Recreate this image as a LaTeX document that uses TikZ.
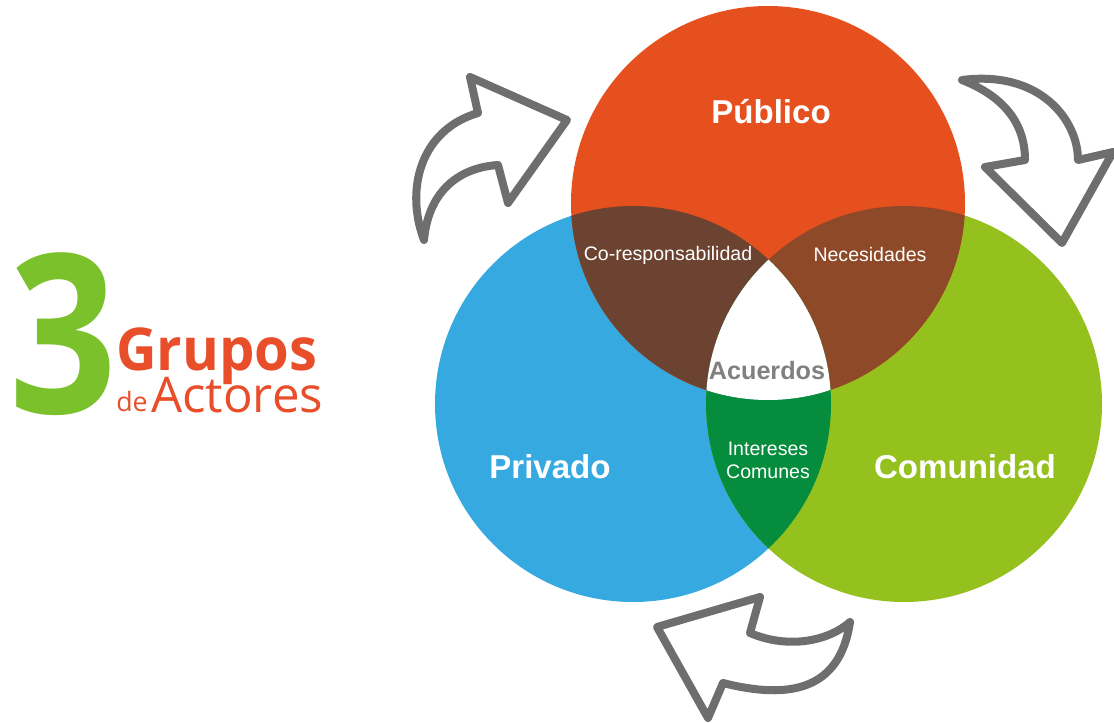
\documentclass[tikz,border=0pt]{standalone}
\usepackage{fontspec}
\setmainfont{Liberation Sans}
\newfontfamily\logofont{Open Sans}
\definecolor{pubcol}{RGB}{229,80,30}
\definecolor{privcol}{RGB}{54,169,224}
\definecolor{comcol}{RGB}{149,193,31}
\definecolor{pubpriv}{RGB}{107,67,48}
\definecolor{pubcom}{RGB}{142,74,40}
\definecolor{privcom}{RGB}{5,140,60}
\definecolor{arrowgray}{RGB}{110,110,110}
\definecolor{tresgreen}{RGB}{122,193,44}
\definecolor{gruposred}{RGB}{232,78,42}
\begin{document}
\begin{tikzpicture}
[x=0.025cm,y=-0.025cm,
bigname/.style={text=white,font=\fontsize{23.5}{26}\selectfont\bfseries},
smallname/.style={text=white,font=\fontsize{13.9}{16.5}\selectfont,align=center},
logotext/.style={inner sep=0,text=gruposred},
cyclearrow/.style={draw=arrowgray,fill=white,line width=5.7pt,line join=round}]
\useasboundingbox (0,0) rectangle (1114,723);
\coordinate (pub) at (768,203);
\coordinate (priv) at (633,404);
\coordinate (com) at (904,404);
\fill[privcol] (priv) circle (198);
\fill[comcol] (com) circle (198);
\fill[pubcol] (pub) circle (197);
\begin{scope}
\clip (pub) circle (197);
\fill[pubpriv] (priv) circle (198);
\fill[pubcom] (com) circle (198);
\end{scope}
\begin{scope}
\clip (priv) circle (198);
\fill[privcom] (com) circle (198);
\clip (com) circle (198);
\fill[white] (pub) circle (197);
\end{scope}
\draw[cyclearrow] (470,77) -- (567,120) -- (508,203) -- (498,165)
  .. controls (455,168) and (428,195) .. (424,240)
  .. controls (405,190) and (420,130) .. (478,113) -- cycle;
\draw[cyclearrow] (962,80) .. controls (1040,70) and (1078,120) .. (1078,160)
  -- (1113,152) -- (1062,243) -- (985,167) -- (1025,160)
  .. controls (1025,120) and (1000,95) .. (962,80) -- cycle;
\draw[cyclearrow] (657,627) -- (760,597) -- (750,633)
  .. controls (790,650) and (830,640) .. (850,622)
  .. controls (840,690) and (790,700) .. (723,683) -- (708,718) -- cycle;
\node[bigname] (publico) at (771,112) {Público};
\node[bigname] (privado) at (550,467) {Privado};
\node[bigname] (comunidad) at (965,467) {Comunidad};
\node[smallname] (corresp) at (668,255) {Co-responsabilidad};
\node[smallname] (necesid) at (870,255) {Necesidades};
\node[smallname] (interes) at (768,460) {Intereses\\Comunes};
\node[text=gray,font=\fontsize{17.9}{20}\selectfont\bfseries] (acuerdos) at (767,371) {Acuerdos};
\node[anchor=base,inner sep=0,text=tresgreen,xscale=0.85,font=\logofont\bfseries\fontsize{158}{158}\selectfont] (tres) at (63,413) {3};
\node[logotext,anchor=base west,xscale=0.95,font=\logofont\bfseries\fontsize{42}{42}\selectfont] (grupos) at (116,370) {Grupos};
\node[logotext,anchor=base west,font=\logofont\fontsize{19}{19}\selectfont] (de) at (116,411) {de};
\node[logotext,anchor=base west,font=\logofont\fontsize{35}{35}\selectfont] (actores) at (151,412) {Actores};
\end{tikzpicture}
\end{document}
